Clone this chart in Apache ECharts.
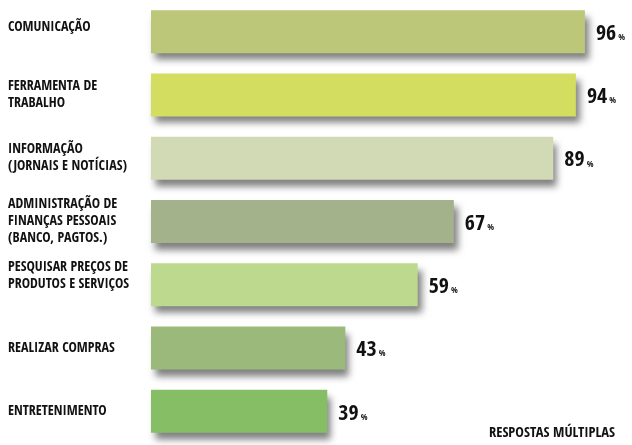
<!DOCTYPE html>
<html><head><meta charset="utf-8">
<script src="https://cdn.jsdelivr.net/npm/echarts@6/dist/echarts.min.js"></script>
<style>html,body{margin:0;padding:0;background:#fff}#c{width:632px;height:445px}</style>
</head><body><div id="c"></div>
<script>
const categories = ['COMUNICAÇÃO','FERRAMENTA DE\nTRABALHO','INFORMAÇÃO\n(JORNAIS E NOTÍCIAS)','ADMINISTRAÇÃO DE\nFINANÇAS PESSOAIS\n(BANCO, PAGTOS.)','PESQUISAR PREÇOS DE\nPRODUTOS E SERVIÇOS','REALIZAR COMPRAS','ENTRETENIMENTO'];
const values = [96, 94, 89, 67, 59, 43, 39];
const barColors = ['#bdc77a','#d3de60','#d2d9b5','#a3b28b','#bcd98e','#9bb97b','#86be66'];
const note = 'RESPOSTAS MÚLTIPLAS';

const FONT = '"Open Sans Condensed", "Roboto Condensed", sans-serif';
// extra blank space below some labels to lift them slightly (layout tweak)
const labelLift = { 0: 8, 4: 18 };

const chart = echarts.init(document.getElementById('c'));
chart.setOption({
  animation: false,
  grid: { left: 151, right: 29, top: 0, bottom: 2, outerBoundsMode: 'none', containLabel: false },
  xAxis: { type: 'value', min: 0, max: 100, show: false },
  yAxis: {
    type: 'category', inverse: true,
    data: categories,
    axisLine: { show: false }, axisTick: { show: false },
    axisLabel: {
      align: 'left', margin: 143, fontFamily: FONT, fontWeight: 'bold', fontSize: 14, color: '#111', lineHeight: 17,
      formatter: (v, i) => {
        const s = v.split('\n').map(l => '{t|' + l + '}').join('\n');
        return labelLift[i] ? s + '\n{g' + labelLift[i] + '| }' : s;
      },
      rich: {
        t: { fontFamily: FONT, fontWeight: 'bold', fontSize: 14, color: '#111', lineHeight: 17 },
        g8: { fontSize: 4, lineHeight: 8 },
        g18: { fontSize: 4, lineHeight: 18 }
      }
    }
  },
  series: [{
    type: 'bar', barWidth: 43,
    data: values.map((v, i) => ({ value: v, itemStyle: { color: barColors[i] } })),
    itemStyle: { shadowColor: 'rgba(0,0,0,0.5)', shadowBlur: 7, shadowOffsetX: 4, shadowOffsetY: 7 },
    label: {
      show: true, position: 'right', distance: 11,
      formatter: p => '{n|' + p.value + '}{p|%}',
      rich: {
        n: { fontFamily: FONT, fontWeight: 'bold', fontSize: 22, color: '#111', lineHeight: 24, padding: [5, 1, 0, 0] },
        p: { fontFamily: FONT, fontWeight: 'bold', fontSize: 9, color: '#111', lineHeight: 24, padding: [12, 0, 0, 1] }
      }
    }
  }],
  graphic: [{
    type: 'text', right: 17, bottom: 4,
    style: { text: note, fontFamily: FONT, fontWeight: 'bold', fontSize: 14.5, fill: '#111' }
  }]
});
</script></body></html>
